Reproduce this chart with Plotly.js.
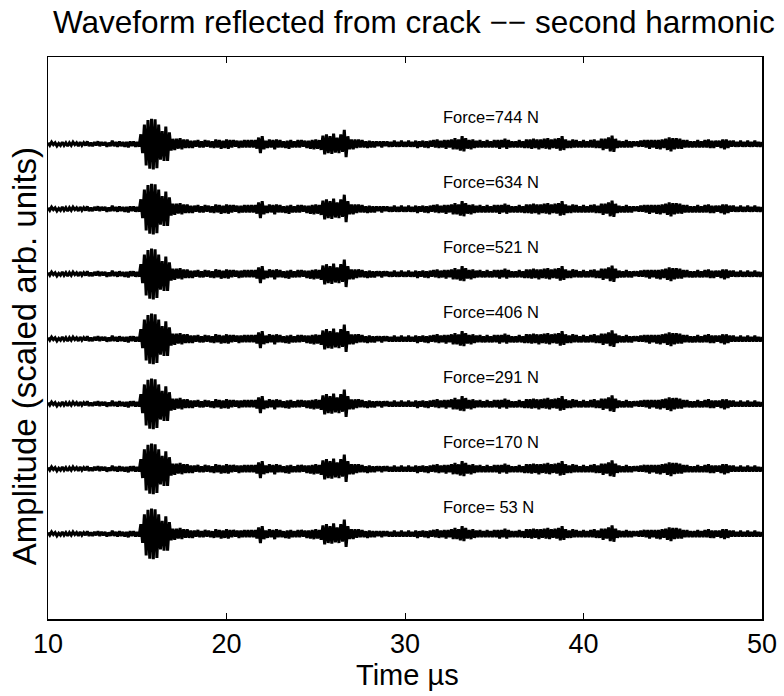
<!DOCTYPE html>
<html>
<head>
<meta charset="utf-8">
<script src="https://cdn.plot.ly/plotly-3.0.1.min.js"></script>
<style>html,body{margin:0;padding:0;background:#fff;}#chart{width:784px;height:696px;}</style>
</head>
<body>
<div id="chart"></div>
<script>
// Applied force for each recorded waveform (bottom to top)
const forces = [53, 170, 291, 406, 521, 634, 744];
const forceLabels = ["Force= 53 N", "Force=170 N", "Force=291 N", "Force=406 N", "Force=521 N", "Force=634 N", "Force=744 N"];
// Vertical offset of each trace (scaled arb. units)
const offsets = [1, 2, 3, 4, 5, 6, 7];
// Sampling of the waveform (µs)
const tStart = 10.0;
const tStep = 0.1;
// Reflected second-harmonic waveform (scaled arb. units), t = 10.0 ... 50.0 µs
const waveform = [
  0.02,-0.02,0.03,-0.01,0.02,-0.03,0.01,-0.02,0.03,-0.02,
  0.02,-0.03,0.02,-0.02,0.03,-0.01,0.02,-0.03,0.03,-0.02,
  0.02,-0.02,0.04,-0.03,0.02,-0.03,0.03,-0.02,0.04,-0.03,
  0.03,-0.02,0.03,-0.04,0.02,-0.03,0.05,-0.03,0.03,-0.04,
  0.04,-0.03,0.03,-0.04,0.03,-0.05,0.04,-0.03,0.04,-0.04,
  0.03,-0.04,
  0.15,-0.14,0.30,-0.33,0.37,-0.38,0.39,-0.39,0.38,-0.37,
  0.30,-0.24,0.20,-0.26,0.27,-0.26,0.18,-0.10,0.08,
  -0.09,0.08,-0.07,0.09,-0.08,0.07,-0.06,0.07,-0.06,0.05,
  -0.06,0.05,-0.04,0.06,-0.05,0.04,-0.05,0.06,-0.04,0.05,
  -0.05,0.04,-0.06,0.07,-0.05,0.06,-0.07,0.05,-0.06,0.07,
  -0.07,0.06,-0.05,0.06,-0.04,0.05,-0.06,0.05,-0.05,0.06,
  -0.05,0.06,-0.05,0.06,-0.05,0.06,-0.07,0.10,-0.14,0.12,
  -0.08,0.05,-0.06,0.07,-0.05,0.06,-0.08,0.07,-0.05,0.06,
  -0.05,0.04,-0.06,0.05,-0.07,0.06,-0.05,0.04,-0.05,0.06,
  -0.05,0.06,-0.04,0.05,-0.06,0.05,-0.07,0.06,-0.08,0.07,
  -0.07,0.06,-0.09,0.13,
  -0.16,0.15,-0.14,0.12,-0.15,0.16,-0.13,0.10,-0.14,0.15,
  -0.12,0.22,-0.20,0.12,-0.08,0.07,
  -0.08,0.07,-0.06,0.07,-0.05,0.06,-0.05,0.04,-0.06,0.05,
  -0.05,0.04,-0.05,0.04,-0.03,0.04,-0.05,0.04,-0.03,0.04,
  -0.04,0.03,-0.04,0.05,-0.04,0.03,-0.04,0.05,-0.04,0.03,
  -0.04,0.05,-0.04,0.03,-0.04,0.05,-0.06,0.04,-0.04,0.05,
  -0.05,0.04,-0.06,0.05,-0.04,0.06,-0.05,0.07,-0.06,0.05,
  -0.05,0.06,-0.07,0.06,-0.05,0.07,-0.08,0.09,-0.08,0.07,
  -0.10,0.12,-0.11,0.09,-0.07,0.06,-0.08,0.07,-0.06,0.05,
  -0.05,0.06,-0.05,0.04,-0.05,0.06,-0.05,0.04,-0.05,0.06,
  -0.05,0.06,-0.07,0.06,-0.05,0.08,-0.07,0.06,-0.05,0.04,
  -0.05,0.04,-0.05,0.06,-0.05,0.04,-0.06,0.07,-0.06,0.07,
  -0.07,0.08,-0.06,0.07,-0.08,0.07,-0.06,0.08,-0.07,0.09,
  -0.08,0.07,-0.06,0.08,-0.07,0.09,-0.10,0.12,-0.09,0.07,
  -0.06,0.05,-0.06,0.07,-0.05,0.06,-0.05,0.04,-0.05,0.06,
  -0.05,0.04,-0.05,0.06,-0.05,0.07,-0.06,0.05,-0.06,0.08,
  -0.09,0.08,-0.07,0.10,-0.11,0.13,-0.12,0.08,-0.06,0.05,
  -0.05,0.04,-0.05,0.06,-0.05,0.04,-0.05,0.04,-0.03,0.04,
  -0.04,0.05,-0.04,0.06,-0.05,0.06,-0.07,0.06,-0.05,0.06,
  -0.07,0.06,-0.08,0.07,-0.06,0.08,-0.09,0.10,-0.11,0.09,
  -0.08,0.09,-0.07,0.08,-0.07,0.06,-0.05,0.06,-0.05,0.04,
  -0.05,0.04,-0.05,0.06,-0.05,0.04,-0.05,0.06,-0.05,0.07,
  -0.06,0.05,-0.06,0.05,-0.04,0.05,-0.06,0.07,-0.08,0.07,
  -0.06,0.05,-0.04,0.05,-0.04,0.03,-0.04,0.05,-0.04,0.03,
  -0.04,0.05,-0.04,0.03,-0.04,0.05,-0.04,0.03,-0.04,0.03
];
const xTicks = [10, 20, 30, 40, 50];
const labelTime = 32;
const labelLift = 0.42;

const FONT = '"Liberation Sans", Arial, Helvetica, sans-serif';

const traces = offsets.map((off, k) => ({
  type: 'scatter',
  mode: 'lines',
  x0: tStart,
  dx: tStep,
  y: waveform.map(v => v + off),
  line: {color: '#000000', width: 3},
  name: forceLabels[k],
  hoverinfo: 'skip',
  showlegend: false
}));

const annotations = offsets.map((off, k) => ({
  x: labelTime,
  y: off + labelLift,
  xref: 'x',
  yref: 'y',
  text: forceLabels[k],
  showarrow: false,
  xanchor: 'left',
  yanchor: 'middle',
  font: {family: FONT, size: 16.5, color: '#000000'}
}));

// y-axis title placed as rotated text (reference sits slightly below the axis centre)
annotations.push({
  xref: 'paper', yref: 'paper',
  x: -0.032, y: 0.468,
  text: 'Amplitude (scaled arb. units)',
  textangle: -90,
  showarrow: false,
  xanchor: 'center', yanchor: 'middle',
  font: {family: FONT, size: 33, color: '#000000'}
});

// x-axis title
annotations.push({
  xref: 'paper', yref: 'paper',
  x: 0.5035, y: -0.099,
  text: 'Time µs',
  showarrow: false,
  xanchor: 'center', yanchor: 'middle',
  font: {family: FONT, size: 29, color: '#000000'}
});

const layout = {
  width: 784,
  height: 696,
  paper_bgcolor: '#ffffff',
  plot_bgcolor: '#ffffff',
  margin: {l: 48, r: 22, t: 57, b: 77},
  showlegend: false,
  font: {family: FONT, color: '#000000'},
  title: {
    text: 'Waveform reflected from crack \u2212\u2212 second harmonic',
    font: {family: FONT, size: 31.5, color: '#000000'},
    xref: 'container', x: 0.528, xanchor: 'center',
    yref: 'container', y: 0.968, yanchor: 'middle'
  },
  xaxis: {
    range: [10, 50],
    tickvals: xTicks,
    ticktext: xTicks.map(String),
    ticks: 'inside',
    ticklen: 6,
    tickwidth: 1,
    tickcolor: '#000000',
    showline: true,
    linecolor: '#000000',
    linewidth: 1.5,
    mirror: 'ticks',
    showgrid: false,
    zeroline: false,
    tickfont: {family: FONT, size: 27, color: '#000000'}
  },
  yaxis: {
    range: [-0.31, 8.34],
    showticklabels: false,
    ticks: '',
    showline: true,
    linecolor: '#000000',
    linewidth: 1.5,
    mirror: true,
    showgrid: false,
    zeroline: false
  },
  annotations: annotations
};

Plotly.newPlot('chart', traces, layout, {staticPlot: true, displayModeBar: false});
</script>
</body>
</html>
